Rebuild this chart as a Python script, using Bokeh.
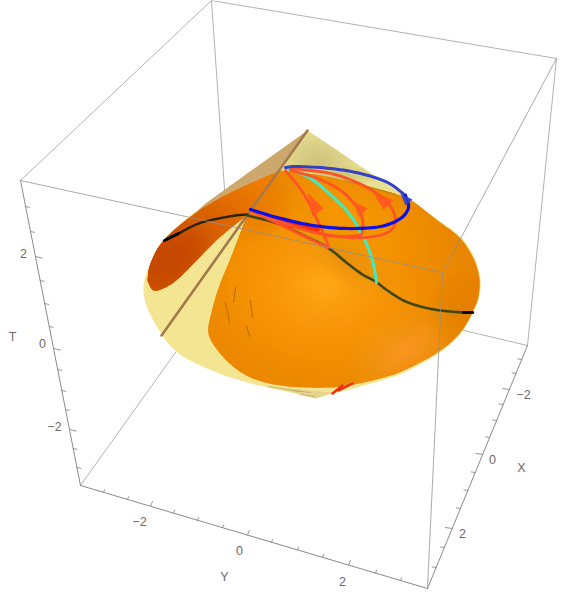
import math
from bokeh.embed import file_html
from bokeh.models import Range1d
from bokeh.plotting import figure
from bokeh.resources import INLINE

# ---------- values (page pixel coordinates) ----------
APEX = (307, 130)
TIP_BOTTOM = (315, 398)
JUNCTION = (278, 171)

BOX_BACK = [[(211, 0), (230, 275)], [(230, 275), (80, 485)], [(230, 275), (527, 345)]]
BOX_REAR = [[(211, 0), (20, 180)], [(211, 0), (556, 58)], [(556, 58), (527, 345)]]
BOX_FRONT = [[(20, 180), (442, 272)], [(442, 272), (556, 58)], [(442, 272), (427, 588)]]
AXIS_T = [(20, 180), (80, 485)]
AXIS_Y = [(80, 485), (427, 588)]
AXIS_X = [(527, 345), (427, 588)]

tick_values = [-3, -2.5, -2, -1.5, -1, -0.5, 0, 0.5, 1, 1.5, 2, 2.5, 3]
t_tick_y = [467, 448, 429, 409, 390, 369, 348, 326, 303, 280, 256, 231, 206]
y_tick_x = [103, 127, 150, 173, 197, 222, 247, 271, 297, 322, 348, 375, 400]
x_tick_y = [359, 373, 389, 404, 420, 437, 454, 472, 490, 508, 528, 547, 567]

labels = ["2", "0", "\u22122", "T", "\u22122", "0", "2", "Y", "\u22122", "0", "2", "X"]
label_x = [23, 42, 54, 12, 139, 239, 342, 224, 523, 492, 462, 521]
label_y = [253, 343, 426, 336, 521, 550, 581, 576, 394, 459, 533, 467]

RIM_RIGHT = [(410, 200), (437, 219), (460, 236), (473, 255), (479, 273), (480, 288),
             (476, 305), (461, 332), (438, 353), (404, 372), (384, 379), (360, 386), (333, 393), TIP_BOTTOM]
RIM_LEFT = [TIP_BOTTOM, (290, 392), (267, 387), (233, 378), (200, 365), (177, 352), (162, 335),
            (147, 308), (143, 285), (150, 263), (163, 240), (178, 225), (205, 203)]

MAIN_TOP = [(279, 170), (320, 175), (357, 183), (400, 195), (417, 204)]
MAIN_RIM = [(417, 204), (437, 220), (459, 237), (472, 256), (478, 273), (479, 288), (475, 305),
            (460, 332), (437, 352), (403, 370), (383, 377), (358, 383), (333, 387)]
MAIN_LOW = [(333, 387), (307, 387), (280, 385), (255, 379), (235, 368), (218, 351), (208, 333),
            (211, 312), (219, 285), (230, 258), (246, 216)]

LOBE_OUT = [(277, 171), (230, 192), (193, 214), (163, 240), (150, 263), (147, 280)]
LOBE_IN = [(147, 280), (153, 290), (165, 287), (178, 278), (198, 258), (218, 238), (245, 216)]

BLACK_LEFT = [(164, 240), (178, 233), (198, 223), (218, 218), (235, 215), (247, 214)]
OLIVE = [(247, 215), (277, 223), (303, 235), (327, 247), (347, 263), (362, 274),
         (375, 281), (387, 290), (403, 300), (420, 306), (440, 310), (463, 312), (472, 312)]
CYAN = [(287, 168), (310, 178), (333, 197), (350, 215), (363, 237), (372, 260), (376, 282)]
BROWN = [APEX, (161, 335)]
BLUE_LOW = [(250, 209), (280, 218), (313, 225), (347, 228), (380, 226), (400, 218),
            (408, 207), (405, 195)]
BLUE_UP = [(405, 195), (387, 182), (360, 173), (330, 168), (297, 166), (285, 167)]
RED_1 = [(285, 170), (303, 193), (317, 220), (327, 243), (327, 247)]
RED_1B = [(327, 247), (290, 229), (250, 210)]
RED_2 = [(290, 170), (317, 178), (343, 192), (360, 213), (362, 230), (357, 235),
         (330, 235), (297, 227), (250, 211)]
RED_3 = [(290, 168), (330, 173), (363, 185), (387, 202), (395, 220), (387, 232),
         (363, 237), (330, 235), (290, 225), (250, 210)]
RED_WEDGE = [(250, 210), (285, 217), (320, 228), (318, 232), (285, 226)]
RED_STREAKS = [[(332, 393), (342, 385)], [(338, 390), (352, 383)]]
TAN_STREAKS = [[(293, 390), (310, 392)], [(268, 386), (300, 391)], [(300, 394), (314, 396)]]
ARROWS = [[(307, 192), (312, 216), (323, 208)],
          [(353, 201), (358, 216), (367, 208)],
          [(372, 191), (383, 209), (393, 200)]]
BLUE_ARROW = [(400, 193), (412, 199), (405, 205)]
SEAM = [(345, 180), (395, 194)]
SCRATCHES = [[(235, 287), (233, 302)], [(225, 302), (226, 309)], [(227, 310), (229, 323)],
             [(246, 325), (249, 336)], [(250, 300), (252, 317)]]
RED_SPOT = [(150, 284), (153, 283), (155, 287), (152, 289)]


# ---------- drawing helpers ----------
def smooth(pts, n=10):
    out = []
    P = [pts[0]] + list(pts) + [pts[-1]]
    for i in range(1, len(P) - 2):
        p0, p1, p2, p3 = P[i - 1], P[i], P[i + 1], P[i + 2]
        for k in range(n):
            t = k / n
            out.append(tuple(
                0.5 * (2 * p1[d] + (p2[d] - p0[d]) * t + (2 * p0[d] - 5 * p1[d] + 4 * p2[d] - p3[d]) * t * t
                       + (3 * p1[d] - p0[d] - 3 * p2[d] + p3[d]) * t ** 3) for d in (0, 1)))
    out.append(tuple(pts[-1]))
    return out


def clip(poly, hull):
    out = list(poly)
    n = len(hull)
    for i in range(n):
        a, b = hull[i], hull[(i + 1) % n]
        side = lambda q: (b[0] - a[0]) * (q[1] - a[1]) - (b[1] - a[1]) * (q[0] - a[0])
        cur, out = out, []
        if not cur:
            return []
        for j in range(len(cur)):
            s, e = cur[j - 1], cur[j]
            d1, d2 = side(s), side(e)
            if (d1 >= 0) != (d2 >= 0):
                t = d1 / (d1 - d2)
                out.append((s[0] + t * (e[0] - s[0]), s[1] + t * (e[1] - s[1])))
            if d2 >= 0:
                out.append(e)
    return out


def ellipse(cx, cy, rx, ry, ang=0, n=48):
    c, s = math.cos(ang), math.sin(ang)
    return [(cx + rx * math.cos(2 * math.pi * k / n) * c - ry * math.sin(2 * math.pi * k / n) * s,
             cy + rx * math.cos(2 * math.pi * k / n) * s + ry * math.sin(2 * math.pi * k / n) * c)
            for k in range(n)]


def fill(p, poly, color, alpha=1.0):
    if len(poly) >= 3:
        p.patch([q[0] for q in poly], [q[1] for q in poly], fill_color=color, fill_alpha=alpha, line_color=None)


def blob(p, poly, cx, cy, rx, ry, color, alpha, ang=0, n=16):
    # soft spot: convex ellipses cut to the shape; a linear ramp of cover up to alpha
    prev = 0.0
    for k in range(n):
        s = 1 - k / n
        cover = alpha * (k + 1) / n
        a = 1 - (1 - cover) / (1 - prev)
        prev = cover
        fill(p, clip(poly, ellipse(cx, cy, rx * s, ry * s, ang)), color, a)


def curve(p, pts, color, width, alpha=1.0, dense=True):
    q = smooth(pts) if dense else pts
    p.line([a[0] for a in q], [a[1] for a in q], line_color=color, line_width=width,
           line_alpha=alpha, line_cap="round", line_join="round")


# ---------- page ----------
p = figure(width=562, height=592, x_range=Range1d(0, 562), y_range=Range1d(592, 0),
           x_axis_type=None, y_axis_type=None, toolbar_location=None,
           output_backend="svg", min_border=0, outline_line_color=None,
           background_fill_color="white", border_fill_color="white")
p.grid.visible = False

for seg in BOX_BACK + BOX_REAR:
    curve(p, seg, "#a9a9a9", 0.9, dense=False)

# pale body
outline = [APEX] + smooth(RIM_RIGHT) + smooth(RIM_LEFT)
fill(p, outline, "#f2e389", 0.93)
top_cap = [APEX, (417, 204), (400, 195), (357, 183), (320, 175), (279, 170), JUNCTION]
fill(p, top_cap, "#e8df90")
blob(p, top_cap, 318, 160, 42, 30, "#cfc47c", 0.85)
blob(p, top_cap, 345, 175, 40, 10, "#c9ba6e", 0.5)
tan = [APEX, JUNCTION, (230, 192), (193, 214), (205, 203)]
fill(p, tan, "#cda86c")
fill(p, [(268, 386), (290, 391), TIP_BOTTOM, (333, 392), (300, 389)], "#e6d48e")

# left lobe
lobe = smooth(LOBE_OUT) + smooth(LOBE_IN)
fill(p, lobe, "#ef7d02")
blob(p, lobe, 160, 265, 125, 80, "#c94b00", 1.0, ang=-0.65, n=20)
blob(p, lobe, 175, 255, 45, 30, "#c94b00", 0.8, ang=-0.65)
fill(p, RED_SPOT, "#d84410", 0.7)

# main surface
main = smooth(MAIN_TOP) + smooth(MAIN_RIM) + smooth(MAIN_LOW)
fill(p, main, "#e77f00")
blob(p, main, 322, 285, 190, 150, "#ffa616", 1.0, ang=0.1, n=28)
blob(p, main, 405, 350, 70, 40, "#ffa032", 0.7, ang=-0.5)
blob(p, main, 350, 210, 100, 45, "#fba008", 0.7, ang=0.3)
blob(p, main, 458, 308, 32, 40, "#e58000", 0.6, ang=0.3)
blob(p, main, 345, 258, 62, 24, "#c98e3c", 0.3, ang=0.6)
blob(p, main, 262, 205, 28, 40, "#ea7e00", 0.7, ang=0.6)

for seg in SCRATCHES:
    curve(p, seg, "#6a3a05", 0.8, alpha=0.55, dense=False)
curve(p, SEAM, "#8a7628", 1.0, alpha=0.55, dense=False)
for seg in TAN_STREAKS:
    curve(p, seg, "#b8a468", 1.0, alpha=0.7, dense=False)
for seg in RED_STREAKS:
    curve(p, seg, "#f02a10", 2.4, dense=False)

# curves
curve(p, BROWN, "#a47a4c", 2.6, dense=False)
curve(p, BLACK_LEFT, "#2a220a", 2.4)
curve(p, BLACK_LEFT[:2], "#000000", 3.0, dense=False)
curve(p, OLIVE, "#3e4714", 2.6)
curve(p, OLIVE[-2:], "#050500", 3.2, dense=False)
curve(p, CYAN, "#40eac2", 3.0)
fill(p, RED_WEDGE, "#ff2a08")
for c in (RED_1, RED_1B, RED_2, RED_3):
    curve(p, c, "#ff5226", 2.8)
for a in ARROWS:
    fill(p, a, "#ff5a20", 0.95)
curve(p, BLUE_UP, "#3640c4", 3.0)
curve(p, BLUE_LOW, "#0f10e6", 3.2)
fill(p, BLUE_ARROW, "#3040c8", 0.9)

# front box and axes
for seg in BOX_FRONT:
    curve(p, seg, "#8f8f8f", 0.9, alpha=0.85, dense=False)
for seg in (AXIS_T, AXIS_Y, AXIS_X):
    curve(p, seg, "#8a8a8a", 1.0, dense=False)


def along(seg, v, index):
    (a, b) = seg
    t = (v - a[index]) / (b[index] - a[index])
    return (a[0] + t * (b[0] - a[0]), a[1] + t * (b[1] - a[1]))


for i, v in enumerate(tick_values):
    major = v in (-2, 0, 2)
    a = along(AXIS_T, t_tick_y[i], 1)
    l = 7 if major else 4
    curve(p, [a, (a[0] + l * 0.97, a[1] + l * 0.22)], "#8a8a8a", 0.9, dense=False)
    a = along(AXIS_Y, y_tick_x[i], 0)
    l = 5 if major else 3
    curve(p, [a, (a[0] + l * 0.38, a[1] - l * 0.92)], "#8a8a8a", 0.9, dense=False)
    a = along(AXIS_X, x_tick_y[i], 1)
    l = 7 if major else 4
    curve(p, [a, (a[0] - l * 0.98, a[1] - l * 0.14)], "#8a8a8a", 0.9, dense=False)

p.text(x=label_x, y=label_y, text=labels, text_align="center", text_baseline="middle",
       text_font_size="12.5px", text_color="#6a6a6a", text_font={"value": "Liberation Sans"})

open("out.html", "w").write(file_html(p, INLINE))
